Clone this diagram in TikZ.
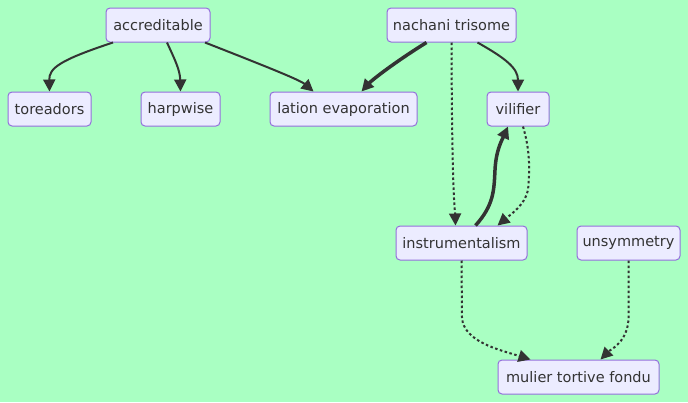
\documentclass[tikz,border=0pt]{standalone}
\usepackage{fontspec}
\setmainfont{DejaVu Sans}
\usetikzlibrary{arrows.meta}
\definecolor{bgmint}{HTML}{A9FFC2}
\definecolor{boxfill}{HTML}{ECECFF}
\definecolor{boxline}{HTML}{9370DB}
\definecolor{edgegray}{HTML}{333333}
\begin{document}
\begin{tikzpicture}[x=1pt, y=-1pt,
        font=\fontsize{14.5}{17}\selectfont,
        box/.style={draw=boxline, fill=boxfill, rounded corners=4pt, line width=1pt,
                    minimum height=34pt, inner xsep=0pt, align=center, text=edgegray},
        link/.style={draw=edgegray, line width=2pt,
                     -{Triangle[length=12pt, width=12pt]}},
        heavy/.style={link, line width=3.5pt},
        dots/.style={link, dash pattern=on 2.5pt off 2.5pt}]
      % background
      \fill[bgmint] (0,0) rectangle (688,402);
      \useasboundingbox (0,0) rectangle (688,402);
      % top row
      \node[box, minimum width=104pt] (acc)  at (158,  25) {accreditable};
      \node[box, minimum width=129pt] (nach) at (451.5,25) {nachani trisome};
      % second row
      \node[box, minimum width=83pt]  (tor)  at (49.5, 109) {toreadors};
      \node[box, minimum width=79pt]  (harp) at (180.5,109) {harpwise};
      \node[box, minimum width=147pt] (lat)  at (343.5,109) {lation evaporation};
      \node[box, minimum width=62pt]  (vil)  at (518,  109) {vilifier};
      % third row
      \node[box, minimum width=131pt] (inst) at (461.5,243) {instrumentalism};
      \node[box, minimum width=103pt] (uns)  at (628.5,243) {unsymmetry};
      % bottom
      \node[box, minimum width=161pt] (mul)  at (578.5,377) {mulier tortive fondu};
      % solid links
      \draw[link] ([xshift=-45pt]acc.south) .. controls (60,60) and (49,68) .. (tor.north);
      \draw[link] ([xshift=9pt]acc.south) .. controls (175,60) and (180,70) .. (harp.north);
      \draw[link] ([xshift=47pt]acc.south) .. controls (265,66) and (300,80) .. ([xshift=-30pt]lat.north);
      \draw[link] ([xshift=26pt]nach.south) .. controls (505,58) and (518,68) .. (vil.north);
      % thick links
      \draw[heavy] ([xshift=-25pt]nach.south) .. controls (395,62) and (372,80) .. ([xshift=18pt]lat.north);
      \draw[heavy] ([xshift=14pt]inst.north) .. controls (494,205) and (494,190) .. (495,170)
            .. controls (496,150) and (502,140) .. ([xshift=-10pt]vil.south);
      % dotted links
      \draw[dots] (nach.south) .. controls (452,200) and (455,210) .. ([xshift=-6pt]inst.north);
      \draw[dots] ([xshift=5pt]vil.south) .. controls (530,150) and (530,170) .. (528,190)
            .. controls (525,205) and (510,215) .. ([xshift=36pt]inst.north);
      \draw[dots] (inst.south) -- (462,318) .. controls (464,342) and (500,350) .. ([xshift=-48pt]mul.north);
      \draw[dots] (uns.south) -- (628.5,318) .. controls (628,342) and (610,350) .. ([xshift=22pt]mul.north);
\end{tikzpicture}
\end{document}
